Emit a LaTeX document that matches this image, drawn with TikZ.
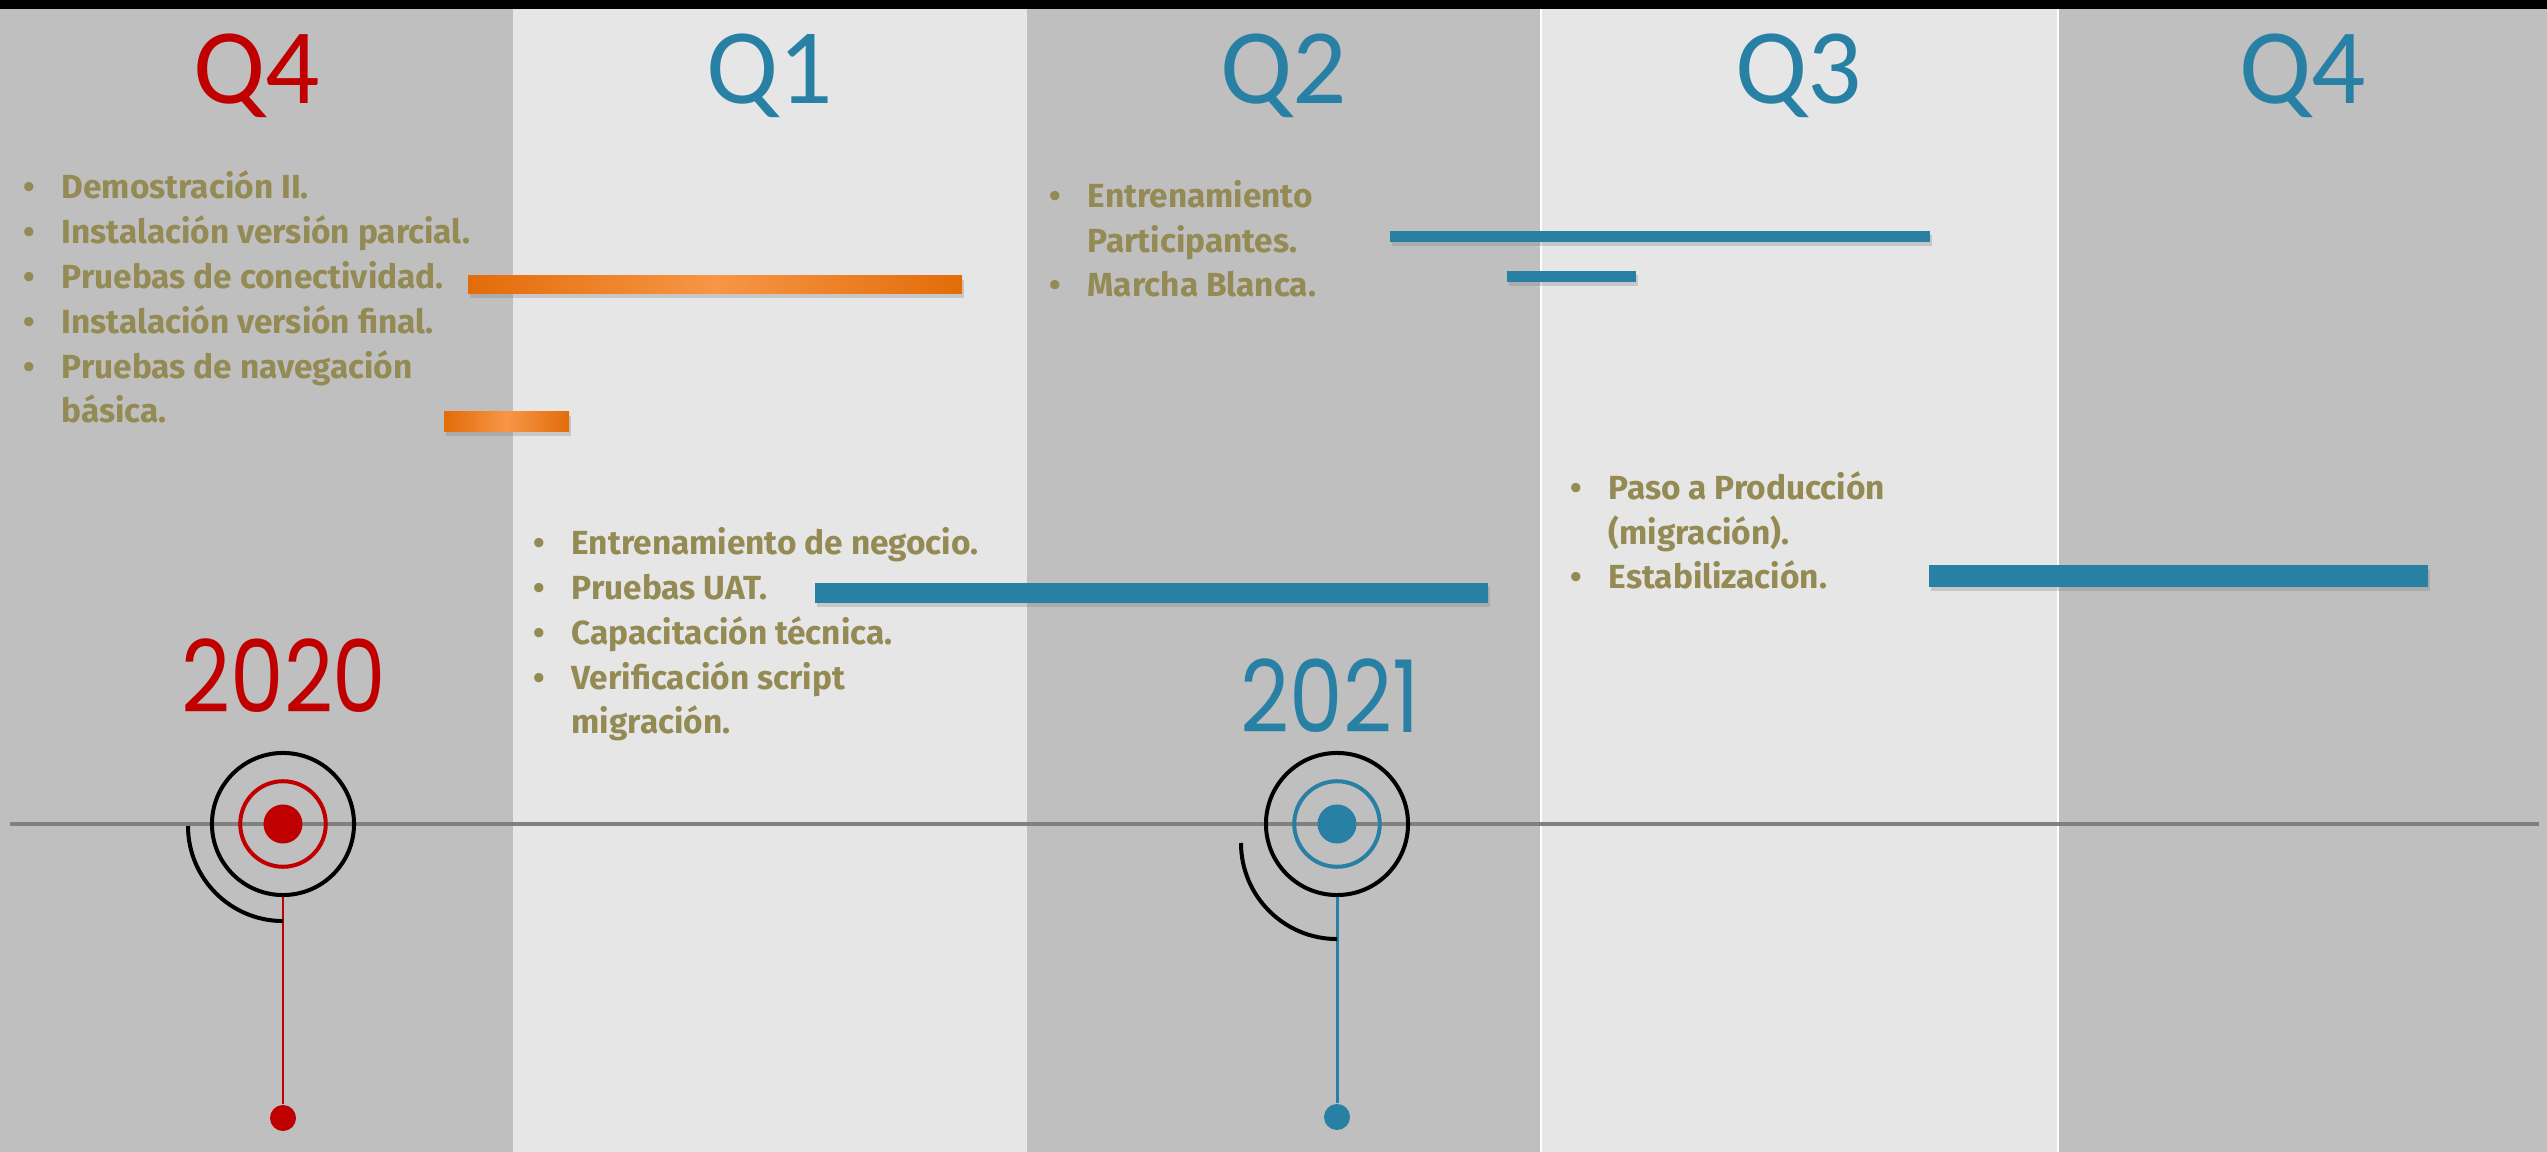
\documentclass[tikz,border=0pt]{standalone}
\usepackage{xcolor}
\usepackage{fontspec}
\usepackage{tikz}
\usetikzlibrary{shadows}
\setmainfont{Fira Sans}
\newfontfamily\qfont{Carlito}
\newfontfamily\yearfont[FakeStretch=0.85]{Poppins}
\definecolor{redq}{RGB}{192, 0, 0}
\definecolor{blueq}{RGB}{41, 128, 165}
\definecolor{olivetext}{RGB}{148, 138, 84}
\definecolor{coldark}{RGB}{191, 191, 191}
\definecolor{collight}{RGB}{230, 230, 230}
\definecolor{orgdark}{RGB}{227, 108, 9}
\definecolor{orglight}{RGB}{247, 150, 70}
\definecolor{linegray}{RGB}{128, 128, 128}
\newcommand{\itm}[1]{\makebox[0.38cm][l]{\textbullet}#1}
\newcommand{\cont}[1]{\hspace*{0.38cm}#1}

\begin{document}
\begin{tikzpicture}[x=0.01cm, y=0.01cm,
    qlabel/.style={font=\qfont\fontsize{30.5}{36}\selectfont, anchor=base, inner sep=0pt},
    yearlabel/.style={font=\yearfont\fontsize{28.5}{34}\selectfont, anchor=base, inner sep=0pt},
    items/.style={font=\bfseries\fontsize{9.5}{12.75}\selectfont, text=olivetext, align=left, inner sep=0pt, anchor=base west},
    barshadow/.style={drop shadow={opacity=0.3, shadow xshift=0.6pt, shadow yshift=-1.2pt}},
    orangebar/.style={left color=orgdark, right color=orgdark, middle color=orglight, barshadow},
    bluebar/.style={fill=blueq, barshadow},
    ring/.style={circle, line width=1.14pt, inner sep=0pt},
    dot/.style={circle, inner sep=0pt}]
        \useasboundingbox (0,0) rectangle (2547,-1152);
        % columnas
        \fill[white] (0,0) rectangle (2547,-1152);
        \fill[coldark] (0,0) rectangle (513,-1152);
        \fill[collight] (513,0) rectangle (1027,-1152);
        \fill[coldark] (1027,0) rectangle (1540,-1152);
        \fill[collight] (1542,0) rectangle (2057,-1152);
        \fill[coldark] (2059,0) rectangle (2547,-1152);
        \fill[black] (0,0) rectangle (2547,-9);

        % trimestres
        \node[qlabel, redq] (q4a) at (257,-104) {Q4};
        \node[qlabel, blueq] (q1) at (770,-104) {Q1};
        \node[qlabel, blueq] (q2) at (1284,-104) {Q2};
        \node[qlabel, blueq] (q3) at (1799,-104) {Q3};
        \node[qlabel, blueq] (q4b) at (2303,-104) {Q4};

        % actividades (ancla en la ultima linea)
        \node[items] (act1) at (23,-423) {\itm{Demostración II.}\\
            \itm{Instalación versión parcial.}\\
            \itm{Pruebas de conectividad.}\\
            \itm{Instalación versión final.}\\
            \itm{Pruebas de navegación}\\
            \cont{básica.}};
        \node[items] (act2) at (533,-734) {\itm{Entrenamiento de negocio.}\\
            \itm{Pruebas UAT.}\\
            \itm{Capacitación técnica.}\\
            \itm{Verificación script}\\
            \cont{migración.}};
        \node[items] (act3) at (1049,-297) {\itm{Entrenamiento}\\
            \cont{Participantes.}\\
            \itm{Marcha Blanca.}};
        \node[items] (act4) at (1570,-589) {\itm{Paso a Producción}\\
            \cont{(migración).}\\
            \itm{Estabilización.}};

        % barras
        \path[orangebar] (468,-276) rectangle (962,-294);
        \path[orangebar] (444,-412) rectangle (569,-432);
        \path[bluebar] (1390,-231) rectangle (1930,-242);
        \path[bluebar] (1507,-271) rectangle (1636,-282);
        \path[bluebar] (815,-583) rectangle (1488,-603);
        \path[bluebar] (1929,-565) rectangle (2428,-587);

        % linea de tiempo
        \coordinate (tlstart) at (10,-824);
        \coordinate (tlend) at (2539,-824);
        \draw[linegray, line width=0.9pt] (tlstart) -- (tlend);

        % 2020
        \node[yearlabel, redq] (y2020) at (284,-713) {2020};
        \node[ring, draw=black, minimum size=1.42cm] (outer20) at (283,-824) {};
        \node[ring, draw=redq, minimum size=0.855cm] (inner20) at (283,-824) {};
        \node[dot, fill=redq, minimum size=0.39cm] (core20) at (283,-824) {};
        \node[dot, fill=redq, minimum size=0.26cm] (end20) at (283,-1118) {};
        \draw[redq, line width=0.85pt] (outer20.south) -- (end20);
        \coordinate (arc20) at (188,-826);
        \draw[black, line width=1.14pt] (arc20) arc[start angle=180, end angle=270, radius=0.95cm];

        % 2021
        \node[yearlabel, blueq] (y2021) at (1330,-733) {2021};
        \node[ring, draw=black, minimum size=1.42cm] (outer21) at (1337,-824) {};
        \node[ring, draw=blueq, minimum size=0.855cm] (inner21) at (1337,-824) {};
        \node[dot, fill=blueq, minimum size=0.39cm] (core21) at (1337,-824) {};
        \node[dot, fill=blueq, minimum size=0.26cm] (end21) at (1337,-1117) {};
        \draw[blueq, line width=0.85pt] (outer21.south) -- (end21);
        \coordinate (arc21) at (1241,-843);
        \draw[black, line width=1.14pt] (arc21) arc[start angle=180, end angle=270, radius=0.96cm];
    \end{tikzpicture}
\end{document}
